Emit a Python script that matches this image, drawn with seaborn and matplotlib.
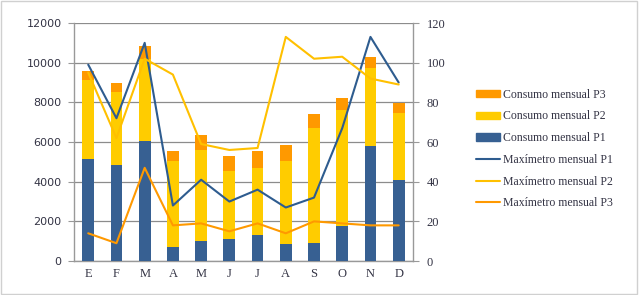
import matplotlib
matplotlib.use("Agg")
import matplotlib.pyplot as plt
import matplotlib.patches as mpatches
import matplotlib.lines as mlines
import seaborn as sns
import pandas as pd

# Data
months = ["E", "F", "M", "A", "M", "J", "J", "A", "S", "O", "N", "D"]
consumo_p1 = [5170, 4840, 6070, 690, 1010, 1100, 1330, 880, 930, 1790, 5800, 4110]
consumo_p2 = [3960, 3690, 4110, 4330, 4580, 3420, 3340, 4140, 5760, 5830, 3910, 3370]
consumo_p3 = [440, 440, 640, 520, 740, 790, 890, 810, 710, 620, 560, 490]
maxi_p1 = [99, 72, 110, 28, 41, 30, 36, 27, 32, 67, 113, 90]
maxi_p2 = [95, 62, 102, 94, 59, 56, 57, 113, 102, 103, 92, 89]
maxi_p3 = [14, 9, 47, 18, 19, 15, 19, 14, 20, 19, 18, 18]

c_p1, c_p2, c_p3 = "#376092", "#FFCC00", "#FF9900"
l_p1, l_p2, l_p3 = "#2E5C8F", "#FFC000", "#FF9900"

df = pd.DataFrame({
    "pos": [str(i) for i in range(len(months))],
    "p1": consumo_p1, "p2": consumo_p2, "p3": consumo_p3,
})
df["p12"] = df["p1"] + df["p2"]
df["p123"] = df["p12"] + df["p3"]

sns.set_style("white")
plt.rcParams["font.family"] = ["Liberation Serif", "DejaVu Serif"]
txt = "#333344"

fig = plt.figure(figsize=(6.39, 2.95), dpi=100)
ax = fig.add_axes([0.116, 0.115, 0.53, 0.807])

# stacked bars drawn as overlaid cumulative totals
for col, colr in [("p123", c_p3), ("p12", c_p2), ("p1", c_p1)]:
    sns.barplot(data=df, x="pos", y=col, color=colr, width=0.42,
                saturation=1, ax=ax, linewidth=0, zorder=3)

ax.set_ylim(0, 12000)
ax.set_yticks(range(0, 12001, 2000))
ax.set_xlim(-0.5, 11.5)
ax.set_xticks(range(len(months)))
ax.set_xticklabels(months)
ax.set_xticks([i + 0.5 for i in range(-1, 12)], minor=True)
ax.tick_params(axis="x", which="major", length=0, labelsize=9, colors=txt, pad=5)
ax.tick_params(axis="x", which="minor", length=4, color="#999999", direction="out")
ax.tick_params(axis="y", length=4, color="#999999", labelsize=8, colors=txt,
               direction="out", pad=5)
for lab in ax.get_yticklabels():
    lab.set_family("DejaVu Sans")
ax.set_xlabel("")
ax.set_ylabel("")
ax.grid(axis="y", color="#8c8c8c", linewidth=0.9, zorder=0)
ax.set_axisbelow(True)
for s in ["left", "right", "bottom"]:
    ax.spines[s].set_color("#999999")
    ax.spines[s].set_linewidth(1.0)
ax.spines["top"].set_visible(False)

ax2 = ax.twinx()
xs = list(range(len(months)))
for vals, colr in [(maxi_p1, l_p1), (maxi_p2, l_p2), (maxi_p3, l_p3)]:
    sns.lineplot(x=xs, y=vals, color=colr, linewidth=1.5, ax=ax2, zorder=4)
ax2.set_ylim(0, 120)
ax2.set_yticks(range(0, 121, 20))
ax2.set_xlim(-0.5, 11.5)
ax2.tick_params(axis="y", length=4, color="#999999", labelsize=9, colors=txt,
                direction="out", pad=6)
for s in ax2.spines.values():
    s.set_visible(False)

handles = [
    mpatches.Patch(color=c_p3, label="Consumo mensual P3"),
    mpatches.Patch(color=c_p2, label="Consumo mensual P2"),
    mpatches.Patch(color=c_p1, label="Consumo mensual P1"),
    mlines.Line2D([], [], color=l_p1, lw=1.5, label="Maxímetro mensual P1"),
    mlines.Line2D([], [], color=l_p2, lw=1.5, label="Maxímetro mensual P2"),
    mlines.Line2D([], [], color=l_p3, lw=1.5, label="Maxímetro mensual P3"),
]
leg = fig.legend(handles=handles, loc="upper left", bbox_to_anchor=(0.737, 0.715),
                 frameon=False, fontsize=8.5, labelspacing=0.82, handlelength=2.1,
                 handleheight=0.55, handletextpad=0.2, borderaxespad=0)
for t in leg.get_texts():
    t.set_color(txt)

fig.patches.append(mpatches.Rectangle((0.002, 0.003), 0.995, 0.994, transform=fig.transFigure,
                                      fill=False, edgecolor="#d0d0d0", linewidth=1))

fig.savefig("out.png", dpi=100)
